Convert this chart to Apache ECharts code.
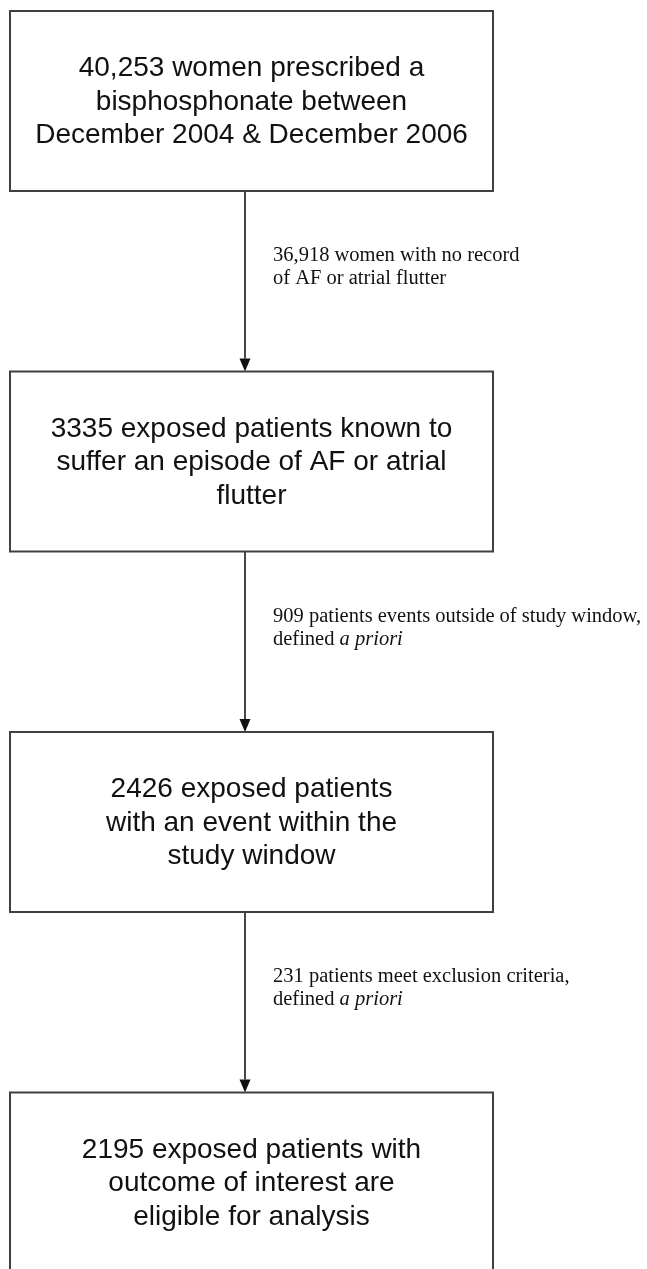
<!DOCTYPE html>
<html>
<head>
<meta charset="utf-8">
<script src="https://cdn.jsdelivr.net/npm/echarts@6/dist/echarts.min.js"></script>
<style>
  html, body { margin: 0; padding: 0; background: #fff; }
  #chart { width: 647px; height: 1269px; }
</style>
</head>
<body>
<div id="chart"></div>
<script>
// 各阶段方框里的文字
const stageLines = [
  ['40,253 women prescribed a', 'bisphosphonate between', 'December 2004 & December 2006'],
  ['3335 exposed patients known to', 'suffer an episode of AF or atrial', 'flutter'],
  ['2426 exposed patients', 'with an event within the', 'study window'],
  ['2195 exposed patients with', 'outcome of interest are', 'eligible for analysis']
];

// 箭头旁的排除说明 ({it|} 为斜体)
const exclusionLines = [
  ['36,918 women with no record', 'of AF or atrial flutter'],
  ['909 patients events outside of study window,', 'defined {it|a priori}'],
  ['231 patients meet exclusion criteria,', 'defined {it|a priori}']
];

// 布局常量 (像素坐标, 轴范围与画布一致)
const BOX_LEFT = 10;
const BOX_RIGHT = 493;
const BOX_TOP0 = 11;
const BOX_H = 180;
const PITCH = 360.5;
const ARROW_X = 245;
const HEAD_L = 13;
const HEAD_W = 5.5;
const NOTE_X = 273;

const SANS = '"Liberation Sans", Arial, sans-serif';
const SERIF = '"Liberation Serif", "Times New Roman", serif';

const chart = echarts.init(document.getElementById('chart'), null, { renderer: 'canvas' });

function renderBox(params, api) {
  const i = api.value(0);
  const top = BOX_TOP0 + i * PITCH;
  const p0 = api.coord([BOX_LEFT, top]);
  const p1 = api.coord([BOX_RIGHT, top + BOX_H]);
  return {
    type: 'group',
    children: [
      {
        type: 'rect',
        shape: { x: p0[0], y: p0[1], width: p1[0] - p0[0], height: p1[1] - p0[1] },
        style: { fill: '#fff', stroke: '#404040', lineWidth: 2 }
      },
      {
        type: 'text',
        style: {
          text: stageLines[i].join('\n'),
          x: (p0[0] + p1[0]) / 2,
          y: (p0[1] + p1[1]) / 2 + 1,
          align: 'center', verticalAlign: 'middle',
          textAlign: 'center', textVerticalAlign: 'middle',
          fontSize: 28, fontFamily: SANS,
          lineHeight: 33.5,
          fill: '#111'
        }
      }
    ]
  };
}

function renderArrow(params, api) {
  const i = api.value(0);
  const y0 = BOX_TOP0 + i * PITCH + BOX_H;
  const y1 = BOX_TOP0 + (i + 1) * PITCH;
  const a = api.coord([ARROW_X, y0]);
  const b = api.coord([ARROW_X, y1 - HEAD_L]);
  const tip = api.coord([ARROW_X, y1]);
  const note = api.coord([NOTE_X, (y0 + y1) / 2 - 14]);
  return {
    type: 'group',
    children: [
      {
        type: 'line',
        shape: { x1: a[0], y1: a[1], x2: b[0], y2: b[1] },
        style: { stroke: '#333', lineWidth: 1.8 }
      },
      {
        type: 'polygon',
        shape: { points: [[b[0] - HEAD_W, b[1]], [b[0] + HEAD_W, b[1]], [tip[0], tip[1]]] },
        style: { fill: '#111' }
      },
      {
        type: 'text',
        style: {
          text: exclusionLines[i].join('\n'),
          x: note[0], y: note[1],
          align: 'left', verticalAlign: 'middle',
          textAlign: 'left', textVerticalAlign: 'middle',
          fontSize: 20.5, fontFamily: SERIF,
          lineHeight: 23,
          fill: '#111',
          rich: {
            it: { fontStyle: 'italic', fontSize: 20.5, fontFamily: SERIF, lineHeight: 23, fill: '#111' }
          }
        }
      }
    ]
  };
}

const option = {
  animation: false,
  grid: { left: 0, right: 0, top: 0, bottom: 0 },
  xAxis: { type: 'value', min: 0, max: 647, show: false },
  yAxis: { type: 'value', min: 0, max: 1269, inverse: true, show: false },
  series: [
    {
      type: 'custom',
      name: 'arrows',
      clip: false,
      renderItem: renderArrow,
      data: exclusionLines.map((_, i) => [i])
    },
    {
      type: 'custom',
      name: 'stages',
      clip: false,
      renderItem: renderBox,
      data: stageLines.map((_, i) => [i])
    }
  ]
};

chart.setOption(option);
</script>
</body>
</html>
